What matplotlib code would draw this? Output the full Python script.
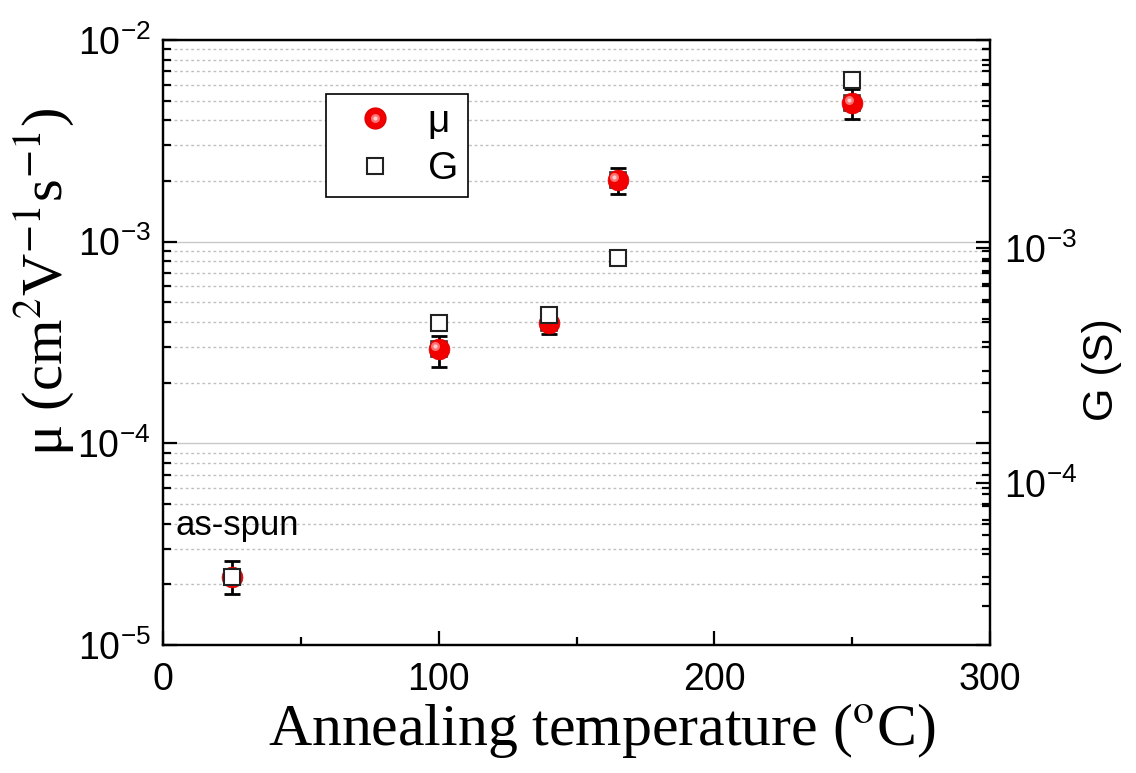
import math
import matplotlib
matplotlib.use("Agg")
import matplotlib.pyplot as plt
from matplotlib.ticker import LogLocator, NullFormatter, FuncFormatter, MultipleLocator
from matplotlib.transforms import offset_copy
from matplotlib.legend_handler import HandlerTuple
from matplotlib.lines import Line2D

plt.rcParams['font.family'] = ['Liberation Sans', 'DejaVu Sans']
plt.rcParams['mathtext.fontset'] = 'custom'
plt.rcParams['mathtext.rm'] = 'Liberation Sans'
plt.rcParams['mathtext.it'] = 'Liberation Sans:italic'
plt.rcParams['mathtext.bf'] = 'Liberation Sans:bold'

# ---- data ----
temps = [25, 100, 140, 165, 250]
mu = [2.17e-5, 2.92e-4, 3.97e-4, 2.02e-3, 4.87e-3]
mu_lo = [1.79e-5, 2.40e-4, 3.50e-4, 1.72e-3, 4.06e-3]
mu_hi = [2.60e-5, 3.39e-4, 4.44e-4, 2.31e-3, 5.71e-3]
G = [3.98e-5, 4.80e-4, 5.19e-4, 9.07e-4, 5.19e-3]
x_ticks = [0, 100, 200, 300]
left_ylim = (1e-5, 1e-2)
right_ylim = (2.05e-5, 7.67e-3)

fig = plt.figure(figsize=(11.36, 7.73), dpi=100)
ax = fig.add_axes([0.1435, 0.1656, 0.728, 0.7827])
ax2 = ax.twinx()

RED = '#f20000'
# error bars + mu
yerr = [[m - lo for m, lo in zip(mu, mu_lo)], [hi - m for m, hi in zip(mu, mu_hi)]]
ax.errorbar(temps, mu, yerr=yerr, fmt='none', ecolor='black', elinewidth=2,
            capsize=5.5, capthick=2, zorder=3)
ax.plot(temps, mu, ls='none', marker='s', ms=12, mfc='white', mec='#333333', mew=1.2, zorder=4)
ax.plot(temps, mu, ls='none', marker='o', ms=15, mfc=RED, mec='#e00000', mew=0.5, zorder=5)
hl = offset_copy(ax.transData, fig=fig, x=-2.5, y=2.5, units='points')
ax.plot(temps, mu, ls='none', marker='o', ms=6.5, mfc='#ff7070', mec='none', transform=hl, zorder=6)
ax.plot(temps, mu, ls='none', marker='o', ms=3, mfc='#ffd0d0', mec='none', transform=hl, zorder=7)

# G squares
ax2.plot(temps, G, ls='none', marker='s', ms=12, mfc='white', mec='#222222', mew=1.5, zorder=5)

# axes
ax.set_xlim(0, 300)
ax.set_yscale('log')
ax.set_ylim(*left_ylim)
ax2.set_yscale('log')
ax2.set_ylim(*right_ylim)

ax.xaxis.set_minor_locator(MultipleLocator(50))
ax.set_xticks(x_ticks)

for a in (ax, ax2):
    a.yaxis.set_major_locator(LogLocator(base=10, numticks=10))
    a.yaxis.set_minor_locator(LogLocator(base=10, subs=[2, 3, 4, 5, 6, 7, 8, 9], numticks=20))
    a.yaxis.set_minor_formatter(NullFormatter())
    a.yaxis.set_major_formatter(FuncFormatter(lambda v, p: r'$10^{%d}$' % round(math.log10(v))))

ax.tick_params(axis='both', which='major', direction='in', length=10, width=1.6, labelsize=27, pad=9)
ax.tick_params(axis='both', which='minor', direction='in', length=6, width=1.6)
ax.tick_params(axis='y', which='both', right=True)
ax.tick_params(axis='x', which='major', pad=12)
ax2.tick_params(axis='y', which='major', direction='in', length=10, width=1.6, labelsize=27, pad=10)
ax2.tick_params(axis='y', which='minor', direction='in', length=6, width=1.6)

for s in list(ax.spines.values()) + list(ax2.spines.values()):
    s.set_linewidth(1.6)

# grid
ax.yaxis.grid(True, which='major', ls='-', color='#c8c8c8', lw=1)
ax.yaxis.grid(True, which='minor', ls=(0, (2, 2)), color='#c0c0c0', lw=1)
ax.set_axisbelow(True)

# labels
ax.set_xlabel(r'Annealing temperature ($^{\mathrm{o}}$C)', fontsize=43,
              family='Liberation Serif', math_fontfamily='stix')
ax.xaxis.set_label_coords(0.531, -0.092)
ax.set_ylabel(r'μ (cm$^{2}$V$^{-1}$s$^{-1}$)', fontsize=42, family='Liberation Serif',
              math_fontfamily='stix')
ax.yaxis.set_label_coords(-0.143, 0.6)
ax.yaxis.label.set_va('center')
ax2.set_ylabel('G (S)', fontsize=31)
ax2.yaxis.set_label_coords(1.135, 0.455)
ax2.yaxis.label.set_va('center')

ax.text(4.4, 3.9e-5, 'as-spun', fontsize=25, va='center', ha='left')

# legend
h_mu = (Line2D([], [], ls='none', marker='o', ms=15, mfc=RED, mec='#e00000'),
        Line2D([], [], ls='none', marker='o', ms=6.5, mfc='#ff7070', mec='none'),
        Line2D([], [], ls='none', marker='o', ms=3, mfc='#ffd0d0', mec='none'))
h_g = Line2D([], [], ls='none', marker='s', ms=12, mfc='white', mec='#222222', mew=1.5)
leg = ax.legend([h_mu, h_g], ['μ', 'G'], handler_map={tuple: HandlerTuple(ndivide=1)},
                loc='upper left', bbox_to_anchor=(0.197, 0.911), fontsize=28,
                frameon=True, fancybox=False, edgecolor='black', framealpha=1,
                handlelength=2.0, handletextpad=0.37, borderpad=0.25, labelspacing=0.3,
                borderaxespad=0)
leg.get_frame().set_linewidth(1.2)
leg.set_zorder(10)

fig.savefig('out.png', dpi=100)
